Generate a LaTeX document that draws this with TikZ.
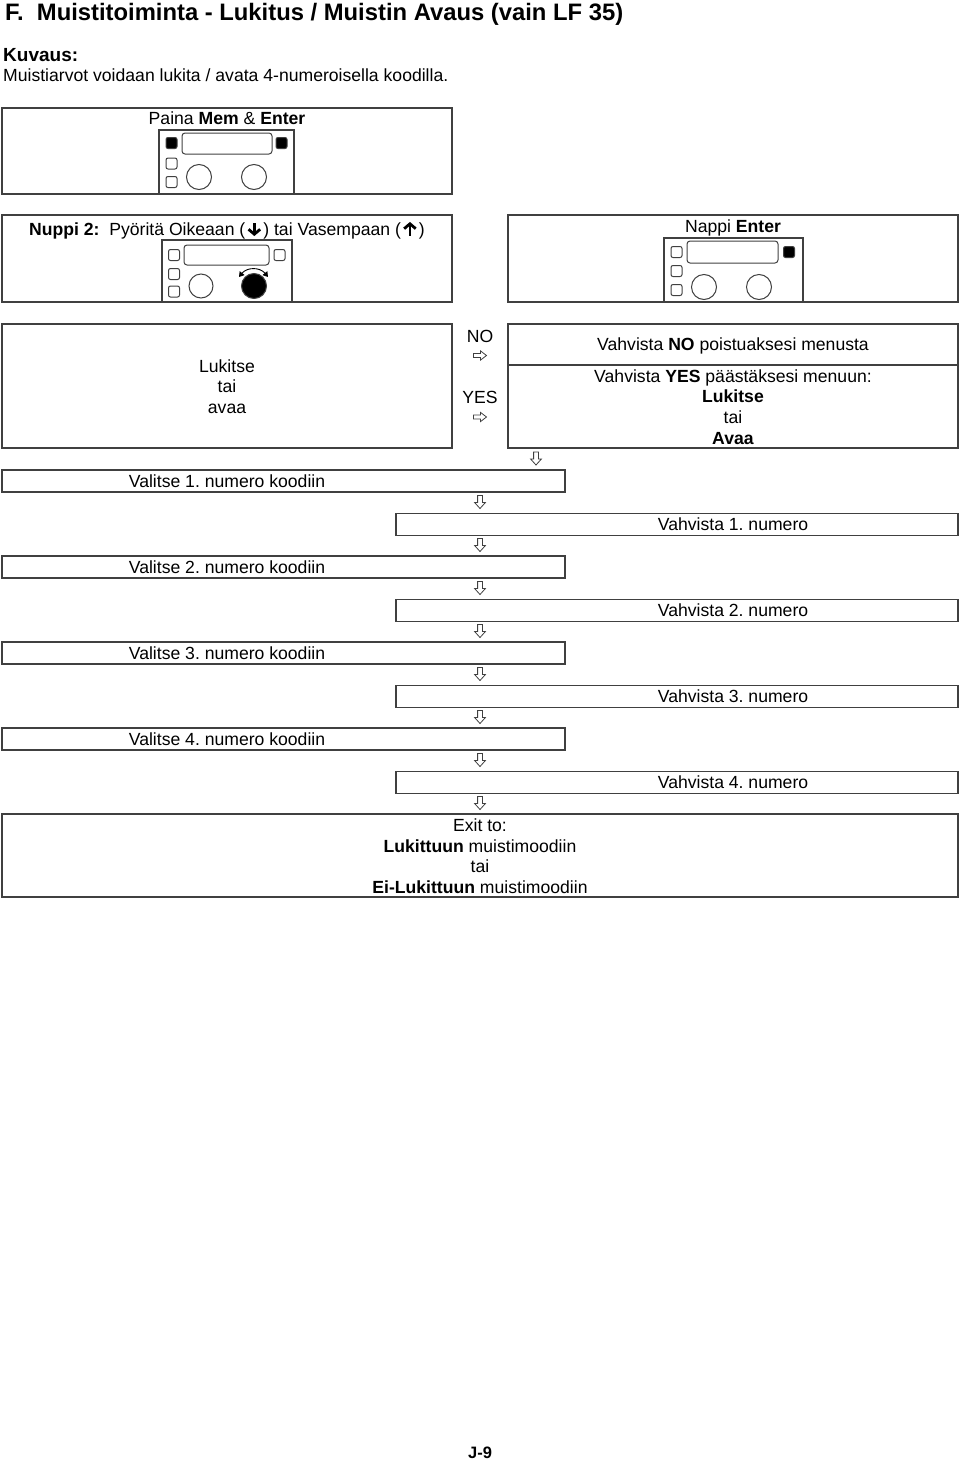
\documentclass[tikz,border=0pt]{standalone}
\usepackage{fontspec}
\setmainfont{Liberation Sans}
\usetikzlibrary{arrows.meta}
\frenchspacing
\newcommand{\myDn}{\hspace{1.8pt}\tikz[baseline=0pt,x=1pt,y=1pt]{\draw[line width=2.8pt] (0,1)--(0,13); \draw[line width=2.8pt,line join=miter] (-5.8,6.2)--(0,1.3)--(5.8,6.2);}\hspace{1.8pt}}
\newcommand{\myUp}{\hspace{1.8pt}\tikz[baseline=0pt,x=1pt,y=1pt]{\draw[line width=2.8pt] (0,0)--(0,12); \draw[line width=2.8pt,line join=miter] (-5.8,6.8)--(0,11.7)--(5.8,6.8);}\hspace{1.8pt}}
\newcommand{\keysq}[3]{\draw[#3] (#1-5.5,#2-5.5) rectangle ++(11,11);}
\tikzset{
  box/.style={draw=black!75, line width=1.7pt, inner sep=0pt},
  txt/.style={inner sep=0pt, font=\fontsize{17.6}{20.6}\selectfont, align=center},
  frame/.style={draw=black!75, line width=1.2pt},
  key/.style={draw=black!75, line width=1pt, rounded corners=2pt},
  keyfill/.style={key, fill=black},
  disp/.style={draw=black!75, line width=1pt, rounded corners=3pt},
  knob/.style={draw=black!75, line width=1pt},
  arrowline/.style={draw=black!75, line width=0.8pt, fill=white, line join=miter},
  downarr/.pic={\draw[arrowline] (-2.4,-6.5) -- (2.4,-6.5) -- (2.4,0.5) -- (5.4,0.5) -- (0,6.5) -- (-5.4,0.5) -- (-2.4,0.5) -- cycle;},
  rightarr/.pic={\draw[arrowline] (-6.5,-2) -- (0.5,-2) -- (0.5,-4.6) -- (6.5,0) -- (0.5,4.6) -- (0.5,2) -- (-6.5,2) -- cycle;}
}
\begin{document}
\begin{tikzpicture}[x=1pt,y=-1pt]
\useasboundingbox (0,0) rectangle (960,1459);
% header texts
\node[txt, anchor=base west, font=\fontsize{23.8}{28}\selectfont\bfseries] (title) at (5,20) {F.\ \ Muistitoiminta - Lukitus / Muistin Avaus (vain LF 35)};
\node[txt, anchor=base west, font=\fontsize{19}{22}\selectfont\bfseries] (kuv) at (3,61) {Kuvaus:};
\node[txt, anchor=base west] (desc) at (3,81.5) {Muistiarvot voidaan lukita / avata 4-numeroisella koodilla.};
% row 1
\node[box, minimum width=450pt, minimum height=86pt] (b1) at (227,151) {};
\node[txt, anchor=base] (paina) at (227,124.5) {Paina \textbf{Mem} \& \textbf{Enter}};
\draw[frame] (159,130) rectangle (294,194);
\keysq{171.5}{143}{keyfill}
\keysq{171.5}{163.5}{key}
\keysq{171.5}{182}{key}
\draw[disp] (182,133) rectangle (272,154);
\keysq{281.5}{143}{keyfill}
\draw[knob] (199,177) circle (12.5);
\draw[knob] (254,177) circle (12.5);
% row 2
\node[box, minimum width=450pt, minimum height=87pt] (b2l) at (227,258.5) {};
\node[box, minimum width=450pt, minimum height=87pt] (b2r) at (733,258.5) {};
\node[txt, anchor=base] (nuppi) at (227,235.5) {\textbf{Nuppi 2:}\ \ Pyöritä Oikeaan (\myDn) tai Vasempaan (\myUp)};
\node[txt, anchor=base] (nappi) at (733,232.5) {Nappi \textbf{Enter}};
\draw[frame] (162,240) rectangle (292,302);
\keysq{174}{255}{key}
\keysq{174}{274}{key}
\keysq{174}{291.5}{key}
\draw[disp] (184,245) rectangle (269,265);
\keysq{279.5}{255}{key}
\draw[knob] (201,286) circle (12);
\draw[knob, fill=black] (254,286) circle (12.5);
\draw[line width=0.9pt, {Triangle[length=5pt,width=6pt]}-{Triangle[length=5pt,width=6pt]}] (239,277) .. controls (247,267) and (260,267) .. (268,277);
\draw[frame] (664,238) rectangle (803,302);
\keysq{676.5}{252}{key}
\keysq{676.5}{271}{key}
\keysq{676.5}{290}{key}
\draw[disp] (687,241) rectangle (778,263);
\keysq{789}{252}{keyfill}
\draw[knob] (704,287) circle (12.5);
\draw[knob] (759,287) circle (12.5);
% row 3
\node[box, minimum width=450pt, minimum height=124pt] (b3l) at (227,386) {};
\node[txt] (lukitse) at (227,386.5) {Lukitse\\tai\\avaa};
\node[txt, anchor=base] (no) at (480,342) {NO};
\node[txt, anchor=base] (yes) at (480,403) {YES};
\pic at (480,355.5) {rightarr};
\pic at (480,417) {rightarr};
\node[box, minimum width=450pt, minimum height=41pt] (b3rt) at (733,344.5) {};
\node[box, minimum width=450pt, minimum height=83pt] (b3rb) at (733,406.5) {};
\node[txt, anchor=base] (vno) at (733,350.5) {Vahvista \textbf{NO} poistuaksesi menusta};
\node[txt] (vyes) at (733,407) {Vahvista \textbf{YES} päästäksesi menuun:\\\textbf{Lukitse}\\tai\\\textbf{Avaa}};
\pic at (536,458.5) {downarr};
% code entry
\foreach \k in {1,...,4}{
  \pgfmathsetmacro\dy{86*(\k-1)}
  \node[box, minimum width=563pt, minimum height=22pt] (sel\k) at (283.5,481+\dy) {};
  \node[txt, anchor=base] (selt\k) at (227,487.5+\dy) {Valitse \k. numero koodiin};
  \node[box, minimum width=562pt, minimum height=22pt] (conf\k) at (677,524.5+\dy) {};
  \node[txt, anchor=base] (conft\k) at (733,530.5+\dy) {Vahvista \k. numero};
}
\foreach \i in {0,...,7}{
  \pic at (480,502+43*\i) {downarr};
}
% exit
\node[box, minimum width=956pt, minimum height=83pt] (exit) at (480,855.5) {};
\node[txt] (exitt) at (480,856) {Exit to:\\\textbf{Lukittuun} muistimoodiin\\tai\\\textbf{Ei-Lukittuun} muistimoodiin};
\node[txt, anchor=base, font=\fontsize{16.5}{20}\selectfont\bfseries] (page) at (480,1458) {J-9};
\end{tikzpicture}
\end{document}
